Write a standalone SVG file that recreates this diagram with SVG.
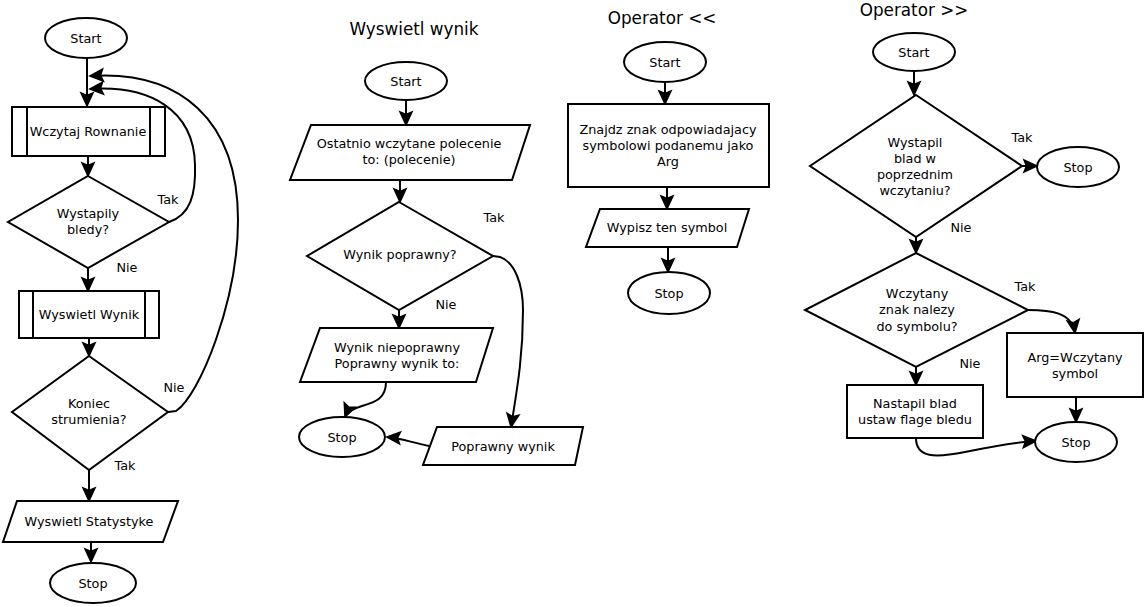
<svg xmlns="http://www.w3.org/2000/svg" width="1145" height="607" viewBox="0 0 1145 607">
<style>
.s{fill:#fff;stroke:#000;stroke-width:2}
.c{fill:none;stroke:#000;stroke-width:2;marker-end:url(#ah)}
text{font-family:"DejaVu Sans","Liberation Sans",sans-serif;font-size:12.8px;fill:#000;text-anchor:middle}
.t{font-size:16.8px}
</style>
<defs>
<marker id="ah" markerUnits="userSpaceOnUse" viewBox="-16 -9 18 18" refX="0" refY="0" markerWidth="18" markerHeight="18" orient="auto">
<path d="M0,0 L-13,-6 L-10.5,0 L-13,6 Z" fill="#000" stroke="#000" stroke-width="1.5" stroke-linejoin="miter"/>
</marker>
</defs>
<rect width="1145" height="607" fill="#fff"/>

<g id="connectors">
<path class="c" d="M87,58 L87,106"/>
<path class="c" d="M88,156 L88,176"/>
<path class="c" d="M169,222 C190,215 196,195 195,165 C194,110 150,85 90,89"/>
<path class="c" d="M168,412 L176,411 C200,395 238,300 238,220 C238,120 180,70 90,76"/>
<path class="c" d="M88,268 L88,291"/>
<path class="c" d="M89,338 L89,356"/>
<path class="c" d="M89,470 L89,501"/>
<path class="c" d="M91,542 L91,562"/>

<path class="c" d="M406,100 L406,125"/>
<path class="c" d="M400,180 L400,202"/>
<path class="c" d="M399,310 L399,328"/>
<path class="c" d="M493,256 L500,257 C515,262 523,285 523,310 C523,360 516,395 511,427"/>
<path class="c" d="M386,382 C386,398 376,402 362,406 C352,409 347,412 345,417"/>
<path class="c" d="M429,446 C410,442 400,438 387,437"/>

<path class="c" d="M665,82 L665,104"/>
<path class="c" d="M667,187 L667,209"/>
<path class="c" d="M668,247 L668,272"/>

<path class="c" d="M914,71 L914,95"/>
<path class="c" d="M1022,166 L1037,166"/>
<path class="c" d="M916,237 L916,253"/>
<path class="c" d="M1028,310 C1050,310 1072,312 1075,333"/>
<path class="c" d="M1076,397 L1076,422"/>
<path class="c" d="M916,367 L916,385"/>
<path class="c" d="M916,438 C916,458 935,458 965,452 C990,447 1015,442 1036,441"/>
</g>

<g id="labels">
<text x="168" y="204">Tak</text>
<text x="127" y="272">Nie</text>
<text x="174" y="392">Nie</text>
<text x="125" y="470">Tak</text>
<text x="494" y="222">Tak</text>
<text x="446" y="309">Nie</text>
<text x="1022" y="142">Tak</text>
<text x="961" y="232">Nie</text>
<text x="1025" y="291">Tak</text>
<text x="970" y="368">Nie</text>
</g>

<g id="titles">
<text class="t" x="414" y="35">Wyswietl wynik</text>
<text class="t" x="662" y="24">Operator &lt;&lt;</text>
<text class="t" x="914" y="16">Operator &gt;&gt;</text>
</g>

<!-- Diagram 1 -->
<g id="d1-start"><ellipse class="s" cx="86" cy="38" rx="41" ry="20"/><text x="86" y="42.5">Start</text></g>
<g id="d1-wczytaj"><rect class="s" x="12" y="107" width="153" height="49"/><path class="s" d="M27,107 V156 M150,107 V156"/><text x="88" y="136">Wczytaj Rownanie</text></g>
<g id="d1-bledy"><path class="s" d="M88,176 L169,222 L88,268 L8,222 Z"/><text x="88" y="218">Wystapily</text><text x="88" y="234">bledy?</text></g>
<g id="d1-wynik"><rect class="s" x="19" y="291" width="140" height="47"/><path class="s" d="M33,291 V338 M145,291 V338"/><text x="89" y="319">Wyswietl Wynik</text></g>
<g id="d1-koniec"><path class="s" d="M89,356 L168,412 L89,470 L12,412 Z"/><text x="89" y="408">Koniec</text><text x="89" y="424">strumienia?</text></g>
<g id="d1-stat"><path class="s" d="M17,501 L178,501 L163,542 L3,542 Z"/><text x="89" y="525.5">Wyswietl Statystyke</text></g>
<g id="d1-stop"><ellipse class="s" cx="93" cy="583" rx="43" ry="20"/><text x="93" y="587.5">Stop</text></g>

<!-- Diagram 2 -->
<g id="d2-start"><ellipse class="s" cx="406" cy="81" rx="41" ry="19"/><text x="406" y="85.5">Start</text></g>
<g id="d2-polecenie"><path class="s" d="M311,125 L530,125 L512,180 L290,180 Z"/><text x="409" y="148">Ostatnio wczytane polecenie</text><text x="409" y="164">to: (polecenie)</text></g>
<g id="d2-poprawny"><path class="s" d="M399,202 L493,256 L399,310 L307,256 Z"/><text x="400" y="259">Wynik poprawny?</text></g>
<g id="d2-niepoprawny"><path class="s" d="M320,328 L493,328 L476,382 L300,382 Z"/><text x="397" y="352">Wynik niepoprawny</text><text x="397" y="368">Poprawny wynik to:</text></g>
<g id="d2-stop"><ellipse class="s" cx="342" cy="437" rx="43" ry="20"/><text x="342" y="441.5">Stop</text></g>
<g id="d2-poprawnywynik"><path class="s" d="M437,427 L583,427 L575,465 L423,465 Z"/><text x="503" y="451">Poprawny wynik</text></g>

<!-- Diagram 3 -->
<g id="d3-start"><ellipse class="s" cx="665" cy="62" rx="41" ry="20"/><text x="665" y="66.5">Start</text></g>
<g id="d3-znajdz"><rect class="s" x="568" y="104" width="201" height="83"/><text x="668" y="134">Znajdz znak odpowiadajacy</text><text x="668" y="150">symbolowi podanemu jako</text><text x="668" y="166">Arg</text></g>
<g id="d3-wypisz"><path class="s" d="M600,209 L749,209 L737,247 L586,247 Z"/><text x="667" y="232">Wypisz ten symbol</text></g>
<g id="d3-stop"><ellipse class="s" cx="669" cy="293" rx="41" ry="21"/><text x="669" y="297.5">Stop</text></g>

<!-- Diagram 4 -->
<g id="d4-start"><ellipse class="s" cx="914" cy="52" rx="41" ry="19"/><text x="914" y="56.5">Start</text></g>
<g id="d4-blad"><path class="s" d="M916,95 L1022,166 L916,237 L810,166 Z"/><text x="915" y="147">Wystapil</text><text x="915" y="163">blad w</text><text x="915" y="179">poprzednim</text><text x="915" y="195">wczytaniu?</text></g>
<g id="d4-stop1"><ellipse class="s" cx="1078" cy="167" rx="41" ry="20"/><text x="1078" y="171.5">Stop</text></g>
<g id="d4-nalezy"><path class="s" d="M916,253 L1028,310 L916,367 L805,310 Z"/><text x="917" y="298">Wczytany</text><text x="917" y="314">znak nalezy</text><text x="917" y="331">do symbolu?</text></g>
<g id="d4-arg"><rect class="s" x="1007" y="333" width="136" height="64"/><text x="1075" y="362">Arg=Wczytany</text><text x="1075" y="378">symbol</text></g>
<g id="d4-nastapil"><rect class="s" x="847" y="385" width="136" height="53"/><text x="915" y="408">Nastapil blad</text><text x="915" y="424">ustaw flage bledu</text></g>
<g id="d4-stop2"><ellipse class="s" cx="1076" cy="442" rx="41" ry="20"/><text x="1076" y="446.5">Stop</text></g>
</svg>
